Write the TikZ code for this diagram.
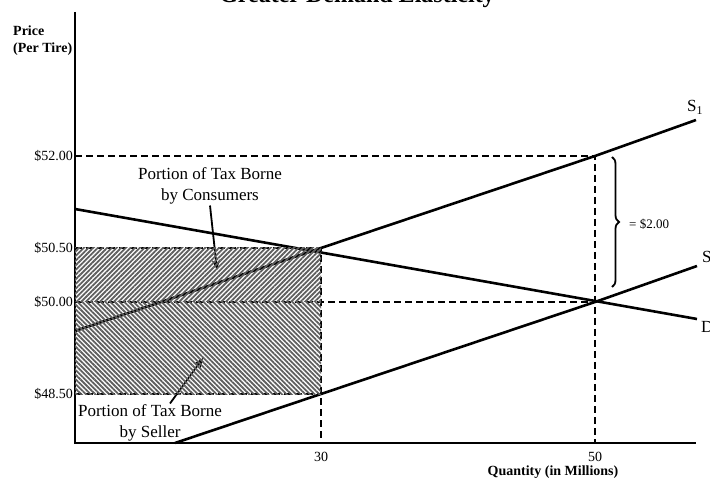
\documentclass[tikz,border=0pt]{standalone}
\usepackage{fontspec}
\setmainfont{Liberation Serif}
\usetikzlibrary{arrows.meta,patterns.meta,decorations.pathreplacing}
\definecolor{hatch}{RGB}{95,95,95}

\tikzset{
  curve/.style={line width=2.6pt},
  guide/.style={line width=2.4pt,dash pattern=on 7pt off 4pt},
  tick/.style={font=\fontsize{14}{16}\selectfont,inner sep=1pt},
  axislabel/.style={font=\bfseries\fontsize{14}{17}\selectfont,align=left,inner sep=0pt},
  note/.style={font=\fontsize{17}{21}\selectfont,align=center,inner sep=1pt},
  pointer/.style={line width=1.8pt,-{Stealth[length=10pt,width=8pt]}},
  stripes/.style={pattern={Lines[angle=#1,distance=3.3pt,line width=1.8pt]},pattern color=hatch},
}

\begin{document}
\begin{tikzpicture}[x=1pt,y=-1pt]
  % pixel frame 710x481, y runs downwards
  \useasboundingbox (0,0) rectangle (710,481);
  \clip (0,0) rectangle (710,481);
  \node[font=\bfseries\fontsize{24}{28}\selectfont,anchor=base] (title) at (357,3) {Greater Demand Elasticity};
  \coordinate (O) at (75,443);
  \coordinate (Ytop) at (75,12);
  \coordinate (Xend) at (696,443);
  \coordinate (A) at (321,248);  % 30 at $50.50
  \coordinate (B) at (321,394);  % 30 at $48.50
  \coordinate (E0) at (595,302); % 50 at $50.00
  \coordinate (E1) at (595,156); % 50 at $52.00
  \draw[guide] (75,156) -- (E1) -- (595,443);
  \draw[guide] (75,302) -- (E0);
  \draw[guide] (75,248) -- (A) -- (321,443);
  \draw[guide] (75,394) -- (B);
  \draw[curve] (75,331) -- (A) -- (E1) -- (696,120);
  \draw[curve] (175,443) -- (B) -- (E0) -- (697,266);
  \draw[curve] (75,209) -- (697,319);
  \node[note,anchor=base west] (s1) at (686,112) {S\textsubscript{1}};
  \node[note,anchor=base west] (s0) at (701,263) {S};
  \node[note,anchor=base west] (d) at (700,332) {D};
  \draw[line width=1.9pt] (Ytop) -- (O) -- (Xend);
  \node[axislabel,anchor=north west] (price) at (13,26) {Price\\(Per Tire)};
  \node[axislabel,anchor=base] (qty) at (553,475) {Quantity (in Millions)};
  \foreach \y/\l in {156/52.00,248/50.50,302/50.00,394/48.50} { \node[tick,anchor=east] (p\y) at (74,\y) {\$\l}; }
  \foreach \x/\l in {321/30,595/50} { \node[tick,anchor=base] (q\l) at (\x,461) {\l}; }
  \draw[line width=1.8pt,decorate,decoration={brace,amplitude=7pt}] (612,157) -- (612,287);
  \node[tick,font=\fontsize{13}{15}\selectfont,anchor=west] (gap) at (628,224) {= \$2.00};
  \node[note] (cons) at (210,186) {Portion of Tax Borne\\by Consumers};
  \coordinate (consTip) at (217,270);
  \draw[pointer] (cons.south) -- (consTip);
  \node[note] (sell) at (150,423) {Portion of Tax Borne\\by Seller};
  \coordinate (sellTip) at (203,358);
  \draw[pointer] ([xshift=20pt]sell.north) -- (sellTip);
  % tax wedge, striped over the lines
  \fill[stripes=45] (75,248) rectangle (321,302);
  \fill[stripes=-45] (75,302) rectangle (321,394);
\end{tikzpicture}
\end{document}
